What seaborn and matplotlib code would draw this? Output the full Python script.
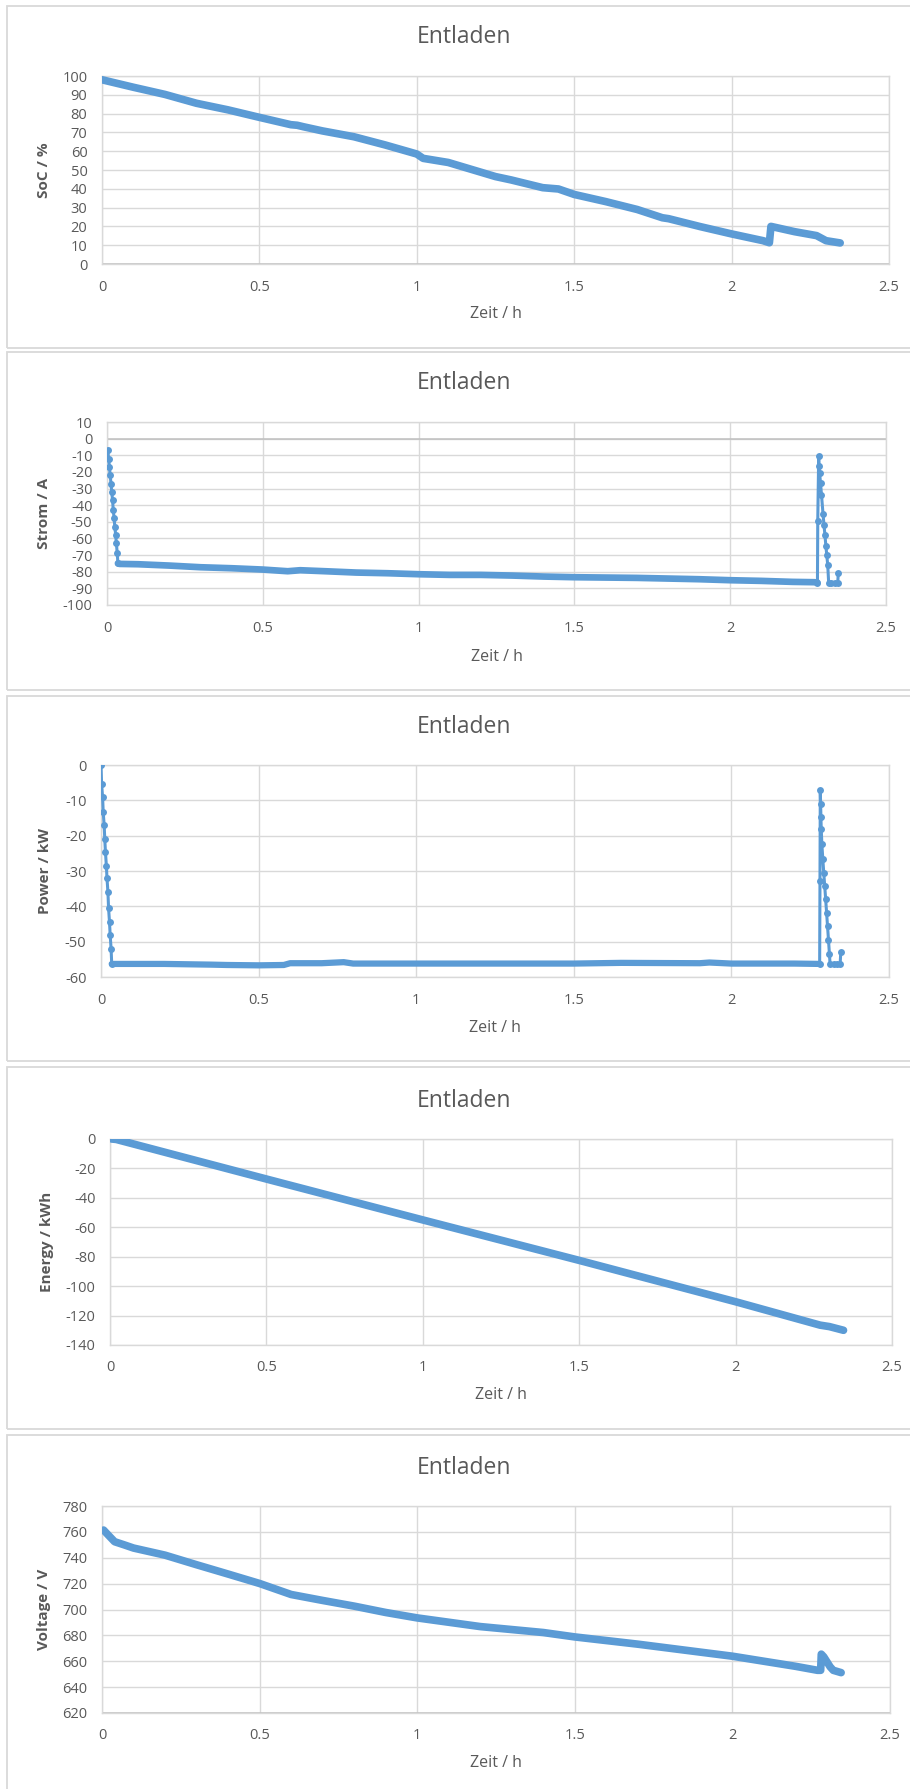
"""
Entladen - five stacked discharge charts (SoC, Strom, Power, Energy, Voltage)
"""

import numpy as np
import pandas as pd
import matplotlib
matplotlib.use('Agg')
import matplotlib.pyplot as plt
from matplotlib.patches import Rectangle
import seaborn as sns

# ---------------- data ----------------
# SoC / %
soc_t = [0.0, 0.1, 0.2, 0.3, 0.4, 0.5, 0.6, 0.62, 0.64, 0.7, 0.8, 0.9, 1.0, 1.02,
         1.1, 1.2, 1.25, 1.3, 1.4, 1.45, 1.5, 1.6, 1.7, 1.78, 1.8, 1.9, 2.0, 2.1,
         2.12, 2.125, 2.2, 2.27, 2.3, 2.345]
soc_v = [98, 94, 90.2, 85.5, 82, 78, 74.1, 73.8, 73, 70.8, 67.7, 63.3, 58.5, 56.2,
         54, 49, 46.5, 44.7, 40.6, 39.9, 37, 33.2, 29, 24.6, 24.1, 19.9, 16, 12.4,
         11.3, 20, 17.2, 15.1, 12.4, 11.2]

# Strom / A : ramp at start, steady discharge, spike at the end
i_ramp_t = [0.003, 0.005, 0.008, 0.010, 0.013, 0.015, 0.018, 0.020, 0.023,
            0.025, 0.028, 0.030, 0.033, 0.035]
i_ramp_v = [-7, -12, -17, -22, -27, -32, -37, -43, -48, -53, -58, -63, -69, -75]
i_flat_t = [0.035, 0.04, 0.1, 0.2, 0.3, 0.4, 0.5, 0.58, 0.62, 0.7, 0.8, 0.9, 1.0,
            1.1, 1.2, 1.3, 1.4, 1.5, 1.6, 1.7, 1.8, 1.9, 2.0, 2.1, 2.2, 2.27, 2.28]
i_flat_v = [-75, -75.3, -75.5, -76.3, -77.3, -77.9, -78.7, -79.7, -79.1, -79.7,
            -80.5, -80.9, -81.5, -81.9, -81.9, -82.3, -82.9, -83.3, -83.5, -83.7,
            -84.1, -84.5, -85.1, -85.5, -86.1, -86.3, -86.5]
i_spike_t = [2.280, 2.281, 2.284, 2.285, 2.287, 2.290, 2.293, 2.298, 2.301,
             2.304, 2.307, 2.310, 2.313, 2.316, 2.325, 2.335, 2.345, 2.347]
i_spike_v = [-86.5, -49.5, -10.3, -16.3, -20.9, -26.9, -33.9, -45.5, -51.9,
             -57.9, -64.3, -70.1, -76, -86.6, -86.6, -86.6, -86.6, -81]

# Power / kW
p_ramp_t = [0.0, 0.002, 0.005, 0.007, 0.010, 0.012, 0.014, 0.017, 0.019, 0.022,
            0.024, 0.027, 0.029, 0.032, 0.034]
p_ramp_v = [0, -5.5, -9, -13.3, -17, -21, -24.5, -28.5, -32, -36, -40.5, -44.5,
            -48, -52, -56.3]
p_flat_t = [0.034, 0.1, 0.2, 0.35, 0.4, 0.5, 0.58, 0.6, 0.7, 0.77, 0.8, 0.9,
            1.0, 1.5, 1.65, 1.9, 1.93, 2.0, 2.2, 2.28]
p_flat_v = [-56.3, -56.3, -56.3, -56.5, -56.6, -56.7, -56.6, -56.1, -56.1, -55.8,
            -56.2, -56.2, -56.2, -56.2, -56.0, -56.1, -55.9, -56.2, -56.2, -56.3]
p_spike_t = [2.280, 2.281, 2.282, 2.283, 2.284, 2.285, 2.287, 2.290, 2.293,
             2.296, 2.299, 2.302, 2.305, 2.308, 2.311, 2.313, 2.325, 2.335,
             2.345, 2.347]
p_spike_v = [-56.3, -32.8, -7.1, -10.9, -14.6, -18.1, -22.4, -26.6, -30.5,
             -34.2, -37.9, -41.8, -45.6, -49.5, -53.5, -56.3, -56.3, -56.3,
             -56.3, -53]

# Energy / kWh
e_t = [0.005, 0.02, 0.5, 1.0, 1.5, 2.0, 2.27, 2.3, 2.345]
e_v = [0, -0.3, -27.2, -55, -82.5, -110.6, -126.5, -127.5, -130]

# Voltage / V
u_t = [0.005, 0.02, 0.04, 0.07, 0.1, 0.2, 0.3, 0.4, 0.5, 0.6, 0.7, 0.8, 0.9,
       1.0, 1.2, 1.4, 1.5, 1.7, 1.9, 2.0, 2.2, 2.27, 2.28, 2.282, 2.29, 2.31,
       2.32, 2.345]
u_v = [761.4, 757.5, 752.4, 750, 747.5, 742, 734.6, 727.4, 720.1, 711.6, 707,
       702.6, 697.7, 693.5, 686.8, 682.2, 678.8, 673.2, 667, 663.9, 656.1, 653,
       653, 665.5, 663.4, 655.7, 653, 651.2]

x_ticks = [0, 0.5, 1, 1.5, 2, 2.5]
x_tick_labels = ['0', '0.5', '1', '1.5', '2', '2.5']

# ---------------- style ----------------
sns.set_theme(style='white')
plt.rcParams['font.family'] = ['Open Sans', 'DejaVu Sans']

W, H = 910, 1789
BLUE = '#5B9BD5'
GRID = '#D9D9D9'
AXIS = '#BFBFBF'
TEXT = '#595959'

fig = plt.figure(figsize=(W / 100, H / 100), dpi=100)
fig.patch.set_facecolor('white')


def px_axes(x0, y0, x1, y1):
    return fig.add_axes([x0 / W, 1 - y1 / H, (x1 - x0) / W, (y1 - y0) / H])


def draw_panel(box, area, title_y, tick_y, xlabel_y, ylabel_x, ylabel,
               ylim, yticks, zero_y):
    # chart border
    bx0, by0, bx1, by1 = box
    fig.add_artist(Rectangle((bx0 / W, 1 - by1 / H), (bx1 - bx0) / W,
                             (by1 - by0) / H, transform=fig.transFigure,
                             fill=False, edgecolor=GRID, lw=1.3))
    x0, y0, x1, y1 = area
    ax = px_axes(x0, y0, x1, y1)
    ax.set_xlim(0, 2.5)
    ax.set_ylim(*ylim)
    ax.set_xticks(x_ticks)
    ax.set_xticklabels(x_tick_labels)
    ax.set_yticks(yticks)
    ax.set_yticklabels([str(v) for v in yticks])
    ax.grid(True, color=GRID, lw=1.0)
    ax.set_axisbelow(True)
    for s in ax.spines.values():
        s.set_color(GRID)
        s.set_linewidth(1.0)
    ax.axhline(zero_y, color=AXIS, lw=1.1, zorder=1.5)
    pad_x = (tick_y - y1 - 7) * 0.72
    ax.tick_params(axis='x', length=0, pad=pad_x, labelsize=10.5, colors=TEXT)
    ax.tick_params(axis='y', length=0, pad=10.5, labelsize=10.5, colors=TEXT)
    ax.set_xlabel('')
    ax.set_ylabel('')
    fig.text(464 / W, 1 - title_y / H, 'Entladen', ha='center', va='center',
             fontsize=16.5, color=TEXT)
    fig.text((x0 + x1) / 2 / W, 1 - xlabel_y / H, 'Zeit / h', ha='center',
             va='center', fontsize=11.5, color=TEXT)
    fig.text(ylabel_x / W, 1 - (y0 + y1) / 2 / H, ylabel, ha='center',
             va='center', rotation=90, fontsize=11, fontweight='bold',
             color=TEXT)
    return ax


def band(ax, t, v, lw=5.5):
    df = pd.DataFrame({'t': t, 'v': v})
    sns.lineplot(data=df, x='t', y='v', ax=ax, estimator=None, sort=False,
                 color=BLUE, lw=lw, solid_capstyle='round',
                 solid_joinstyle='round', zorder=3)
    ax.set_xlabel('')
    ax.set_ylabel('')


def dotted(ax, t, v):
    df = pd.DataFrame({'t': t, 'v': v})
    sns.lineplot(data=df, x='t', y='v', ax=ax, estimator=None, sort=False,
                 color=BLUE, lw=2.2, marker='o', markersize=5,
                 markeredgewidth=0, zorder=4)
    ax.set_xlabel('')
    ax.set_ylabel('')


# 1 SoC
ax1 = draw_panel((7, 6, 935, 348), (102, 76, 889, 264), 37, 287, 314, 44,
                 'SoC / %', (0, 100), list(range(0, 101, 10)), 0)
band(ax1, soc_t, soc_v)

# 2 Strom
ax2 = draw_panel((7, 352, 935, 690), (107, 422, 886, 605), 383, 628, 657, 44,
                 'Strom / A', (-100, 10), list(range(-100, 11, 10)), 0)
dotted(ax2, i_ramp_t, i_ramp_v)
band(ax2, i_flat_t, i_flat_v, lw=4.8)
dotted(ax2, i_spike_t, i_spike_v)

# 3 Power
ax3 = draw_panel((7, 696, 935, 1061), (101, 765, 889, 977), 727, 1000, 1028,
                 45, 'Power / kW', (-60, 0), list(range(-60, 1, 10)), 0)
dotted(ax3, p_ramp_t, p_ramp_v)
band(ax3, p_flat_t, p_flat_v, lw=4.5)
dotted(ax3, p_spike_t, p_spike_v)

# 4 Energy
ax4 = draw_panel((7, 1067, 935, 1429), (110, 1139, 892, 1345), 1101, 1367,
                 1395, 47, 'Energy / kWh', (-140, 0),
                 list(range(-140, 1, 20)), 0)
band(ax4, e_t, e_v)

# 5 Voltage
ax5 = draw_panel((7, 1435, 935, 1800), (102, 1506, 890, 1713), 1468, 1735,
                 1763, 44, 'Voltage / V', (620, 780),
                 list(range(620, 781, 20)), 620)
band(ax5, u_t, u_v)

fig.savefig('out.png', dpi=100)
